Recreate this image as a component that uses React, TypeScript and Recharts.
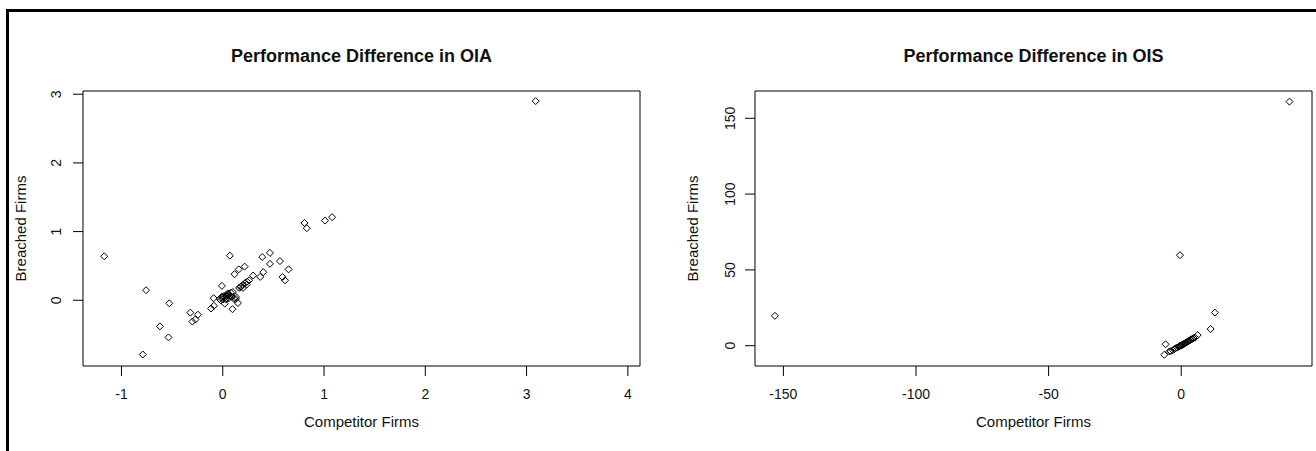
import React from 'react';
import {
  ScatterChart,
  Scatter,
  XAxis,
  YAxis,
  ReferenceArea,
} from 'recharts';

const FONT = '"Liberation Sans", Arial, Helvetica, sans-serif';

// OIA panel: competitor (x) vs breached (y)
const oiaCompetitor = [
  -1.17, 3.09, -0.757, -0.528, -0.79, -0.62, -0.536, -0.32, -0.3, -0.27, -0.245,
  -0.116, -0.087, -0.09, -0.008, 0.07, 0.096, 0.02, -0.03, -0.01, 0.01, 0.03,
  0.05, 0.07, 0.09, 0.0, 0.04, 0.08, 0.11, 0.13, 0.15, 0.13, 0.116, 0.158, 0.216,
  0.175, 0.195, 0.237, 0.26, 0.3, 0.37, 0.4, 0.39, 0.466, 0.466, 0.565, 0.59,
  0.615, 0.65, 0.807, 0.83, 1.01, 1.08, 0.06, 0.1, 0.2, 0.22,
  0.02, 0.04, 0.06, 0.03, 0.05, 0.08, 0.0, -0.02, 0.16, 0.18, 0.24,
];
const oiaBreached = [
  0.64, 2.9, 0.146, -0.044, -0.79, -0.38, -0.54, -0.18, -0.31, -0.28, -0.21,
  -0.12, -0.08, 0.03, 0.21, 0.65, -0.13, -0.05, 0.02, 0.05, 0.06, 0.07, 0.1,
  0.07, 0.05, 0.01, 0.03, 0.11, 0.02, 0.05, -0.04, 0.02, 0.38, 0.45, 0.49, 0.19,
  0.22, 0.23, 0.29, 0.36, 0.34, 0.41, 0.63, 0.69, 0.53, 0.57, 0.34, 0.29, 0.45,
  1.126, 1.05, 1.16, 1.21, 0.08, 0.12, 0.18, 0.25,
  0.04, 0.06, 0.03, 0.01, 0.08, 0.06, 0.05, 0.0, 0.18, 0.2, 0.27,
];

// OIS panel
const oisCompetitor = [
  -153.2, 40.8, -0.5, 12.7, 11.1, 6.2, -5.9, -6.4, -4.5, -4.0, -3.2, -2.5, -2.1,
  -1.5, -1.0, -0.6, -0.3, 0.0, 0.2, 0.5, 0.8, 1.0, 1.3, 1.6, 2.0, 2.3, 2.7, 3.0,
  3.4, 3.8, 4.2, 4.6, 5.2,
];
const oisBreached = [
  19.7, 161, 59.7, 21.8, 11, 7, 0.9, -6, -3.8, -3.6, -3, -2.2, -1.7, -1.2, -0.8,
  -0.3, 0, 0.2, 0.4, 0.6, 0.9, 1.2, 1.5, 1.8, 2.2, 2.6, 3, 3.3, 3.7, 4.2, 4.5, 5,
  5.3,
];

const oiaXTicks = [-1, 0, 1, 2, 3, 4];
const oiaYTicks = [0, 1, 2, 3];
const oisXTicks = [-150, -100, -50, 0];
const oisYTicks = [0, 50, 100, 150];

const oiaXDomain: [number, number] = [-1.38, 4.12];
const oiaYDomain: [number, number] = [-0.957, 3.047];
const oisXDomain: [number, number] = [-160.7, 49.3];
const oisYDomain: [number, number] = [-13.4, 168];

const oiaData = oiaCompetitor.map((x, i) => ({ x, y: oiaBreached[i] }));
const oisData = oisCompetitor.map((x, i) => ({ x, y: oisBreached[i] }));

function Diamond(props: any) {
  const { cx, cy } = props;
  if (cx == null || cy == null) return null;
  const r = 3.5;
  return (
    <path
      d={`M${cx},${cy - r}L${cx + r},${cy}L${cx},${cy + r}L${cx - r},${cy}Z`}
      fill="none"
      stroke="#000"
      strokeWidth={1}
    />
  );
}

function RotatedTick(props: any) {
  const { x, y, payload } = props;
  return (
    <text
      x={x}
      y={y}
      transform={`rotate(-90 ${x} ${y})`}
      textAnchor="middle"
      fontSize={14}
      fontFamily={FONT}
      fill="#111"
    >
      {payload.value}
    </text>
  );
}

function YLabel(props: any) {
  const { viewBox } = props;
  if (!viewBox) return null;
  const cx = viewBox.x + viewBox.width - 62 + 5;
  const cy = viewBox.y + viewBox.height / 2;
  return (
    <text
      x={cx}
      y={cy}
      transform={`rotate(-90 ${cx} ${cy})`}
      textAnchor="middle"
      fontSize={15}
      fontFamily={FONT}
      fill="#111"
    >
      Breached Firms
    </text>
  );
}

type PanelProps = {
  title: string;
  left: number;
  data: { x: number; y: number }[];
  xTicks: number[];
  yTicks: number[];
  xDomain: [number, number];
  yDomain: [number, number];
  margin: { top: number; right: number; bottom: number; left: number };
  yTickMargin: number;
};

function Panel({ title, left, data, xTicks, yTicks, xDomain, yDomain, margin, yTickMargin }: PanelProps) {
  const width = 658;
  const boxLeft = margin.left + 60;
  const boxRight = width - margin.right;
  return (
    <div style={{ position: 'absolute', left, top: 0, width, height: 451 }}>
      <div
        style={{
          position: 'absolute',
          left: boxLeft,
          width: boxRight - boxLeft,
          top: 47,
          textAlign: 'center',
          fontFamily: FONT,
          fontWeight: 'bold',
          fontSize: 18,
          lineHeight: '18px',
          color: '#111',
          whiteSpace: 'nowrap',
        }}
      >
        {title}
      </div>
      <ScatterChart width={width} height={451} margin={margin}>
        <XAxis
          type="number"
          dataKey="x"
          domain={xDomain}
          ticks={xTicks}
          allowDataOverflow
          axisLine={false}
          tickLine={{ stroke: '#000' }}
          tickSize={10}
          tickMargin={13}
          height={61}
          interval={0}
          tick={{ fontSize: 14, fill: '#111', fontFamily: FONT }}
          label={{
            value: 'Competitor Firms',
            position: 'insideBottom',
            offset: 0,
            fontSize: 15,
            fill: '#111',
            fontFamily: FONT,
          }}
        />
        <YAxis
          type="number"
          dataKey="y"
          domain={yDomain}
          ticks={yTicks}
          allowDataOverflow
          axisLine={false}
          tickLine={{ stroke: '#000' }}
          tickSize={10}
          tickMargin={yTickMargin}
          width={60}
          interval={0}
          tick={<RotatedTick />}
          label={<YLabel />}
        />
        <ReferenceArea
          x1={xDomain[0]}
          x2={xDomain[1]}
          y1={yDomain[0]}
          y2={yDomain[1]}
          fill="none"
          stroke="#000"
          strokeWidth={1}
          ifOverflow="visible"
        />
        <Scatter data={data} shape={<Diamond />} isAnimationActive={false} />
      </ScatterChart>
    </div>
  );
}

export default function App() {
  return (
    <div
      style={{
        position: 'absolute',
        left: 0,
        top: 0,
        width: 1316,
        height: 451,
        background: '#fff',
        overflow: 'hidden',
      }}
    >
      <div
        style={{
          position: 'absolute',
          left: 6,
          top: 9,
          right: 0,
          bottom: 0,
          borderTop: '3px solid #000',
          borderLeft: '3px solid #000',
        }}
      />
      <Panel
        title="Performance Difference in OIA"
        left={0}
        data={oiaData}
        xTicks={oiaXTicks}
        yTicks={oiaYTicks}
        xDomain={oiaXDomain}
        yDomain={oiaYDomain}
        margin={{ top: 91, right: 18, bottom: 24, left: 23 }}
        yTickMargin={12}
      />
      <Panel
        title="Performance Difference in OIS"
        left={658}
        data={oisData}
        xTicks={oisXTicks}
        yTicks={oisYTicks}
        xDomain={oisXDomain}
        yDomain={oisYDomain}
        margin={{ top: 91, right: 4, bottom: 24, left: 37 }}
        yTickMargin={10}
      />
    </div>
  );
}
